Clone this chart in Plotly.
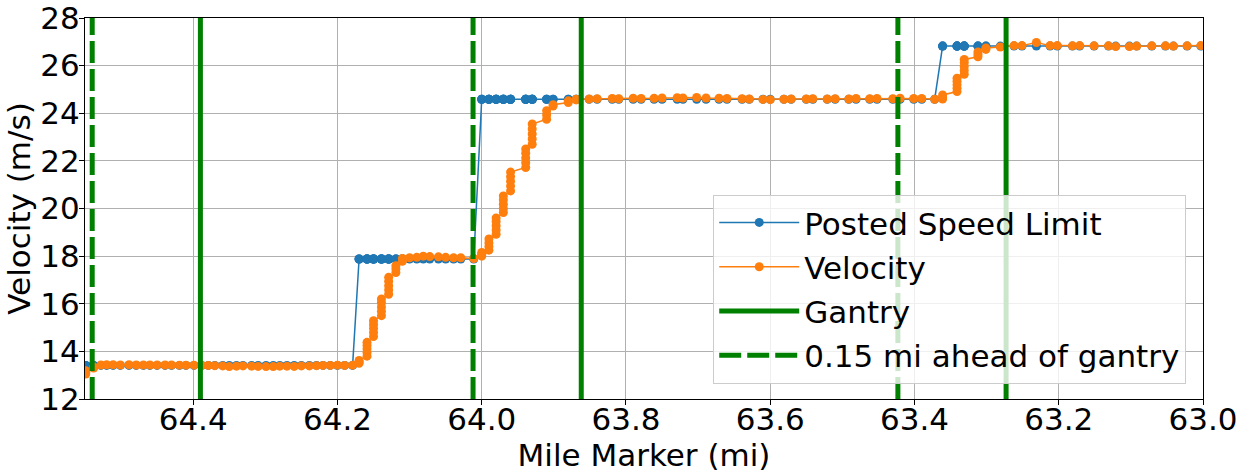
import plotly.graph_objects as go

# ---- data ----
mile_marker = [
    64.549, 64.538, 64.528, 64.520, 64.511, 64.501, 64.489, 64.479, 64.469, 64.460,
    64.450, 64.439, 64.430, 64.419, 64.410, 64.399, 64.388, 64.379, 64.370, 64.359,
    64.350, 64.340, 64.331, 64.319, 64.310, 64.299, 64.289, 64.280, 64.270, 64.260,
    64.250, 64.239, 64.229, 64.220, 64.210, 64.200, 64.190, 64.179,
    64.170, 64.159, 64.150, 64.139, 64.129, 64.119, 64.110, 64.100, 64.090, 64.081,
    64.072, 64.060, 64.050, 64.039, 64.029, 64.011,
    64.000, 63.990, 63.980, 63.970, 63.960, 63.939, 63.930, 63.910, 63.901, 63.880,
    63.869, 63.851, 63.840, 63.819, 63.810, 63.790, 63.779, 63.761, 63.750, 63.729,
    63.721, 63.702, 63.689, 63.671, 63.660, 63.639, 63.629, 63.610, 63.600, 63.581,
    63.571, 63.550, 63.541, 63.521, 63.510, 63.491, 63.481, 63.462, 63.452, 63.430,
    63.420, 63.401, 63.390, 63.372,
    63.361, 63.341, 63.331, 63.312, 63.301, 63.281, 63.262, 63.251, 63.231, 63.212,
    63.202, 63.181, 63.171, 63.151, 63.131, 63.121, 63.102, 63.092, 63.071, 63.052,
    63.041, 63.022, 63.003,
]

posted_speed_limit = [
    13.41, 13.41, 13.41, 13.41, 13.41, 13.41, 13.41, 13.41, 13.41, 13.41,
    13.41, 13.41, 13.41, 13.41, 13.41, 13.41, 13.41, 13.41, 13.41, 13.41,
    13.41, 13.41, 13.41, 13.41, 13.41, 13.41, 13.41, 13.41, 13.41, 13.41,
    13.41, 13.41, 13.41, 13.41, 13.41, 13.41, 13.41, 13.41,
    17.88, 17.88, 17.88, 17.88, 17.88, 17.88, 17.88, 17.88, 17.88, 17.88,
    17.88, 17.88, 17.88, 17.88, 17.88, 17.88,
    24.59, 24.59, 24.59, 24.59, 24.59, 24.59, 24.59, 24.59, 24.59, 24.59,
    24.59, 24.59, 24.59, 24.59, 24.59, 24.59, 24.59, 24.59, 24.59, 24.59,
    24.59, 24.59, 24.59, 24.59, 24.59, 24.59, 24.59, 24.59, 24.59, 24.59,
    24.59, 24.59, 24.59, 24.59, 24.59, 24.59, 24.59, 24.59, 24.59, 24.59,
    24.59, 24.59, 24.59, 24.59,
    26.82, 26.82, 26.82, 26.82, 26.82, 26.82, 26.82, 26.82, 26.82, 26.82,
    26.82, 26.82, 26.82, 26.82, 26.82, 26.82, 26.82, 26.82, 26.82, 26.82,
    26.82, 26.82, 26.82,
]

# velocity readings logged at each mile marker (several readings share a marker)
velocity_readings = [
    [13.05, 13.12, 13.19], [13.30, 13.34], [13.43], [13.44], [13.44], [13.43], [13.44], [13.43], [13.43], [13.43],
    [13.43], [13.43], [13.43], [13.42], [13.42], [13.42], [13.41], [13.41], [13.40], [13.39],
    [13.36], [13.38], [13.39], [13.38], [13.37], [13.36], [13.36], [13.38], [13.38], [13.37],
    [13.39], [13.39], [13.40], [13.41], [13.41], [13.42], [13.41], [13.42],
    [13.50, 13.56, 13.62], [13.80, 13.95, 14.10, 14.25, 14.38], [14.62, 14.79, 14.96, 15.13, 15.29],
    [15.50, 15.68, 15.86, 16.04, 16.20], [16.40, 16.58, 16.76, 16.94, 17.11], [17.31, 17.46, 17.60],
    [17.78, 17.90], [17.93], [17.95], [18.00],
    [17.98], [17.97], [17.95], [17.93], [17.93], [17.90],
    [18.00, 18.08, 18.15], [18.25, 18.40, 18.55, 18.72], [18.92, 19.10, 19.28, 19.45, 19.60],
    [19.83, 20.00, 20.18, 20.36, 20.53], [20.74, 20.94, 21.14, 21.34, 21.53],
    [21.72, 21.92, 22.12, 22.32, 22.50], [22.70, 22.92, 23.13, 23.34, 23.55],
    [23.75, 23.93, 24.11], [24.30, 24.36], [24.45, 24.52],
    [24.56, 24.59], [24.60], [24.61], [24.62], [24.61], [24.63], [24.62], [24.63], [24.64], [24.65],
    [24.64], [24.66], [24.64], [24.63], [24.62], [24.61], [24.60], [24.58], [24.57], [24.59],
    [24.60], [24.60], [24.61], [24.60], [24.61], [24.60], [24.62], [24.61], [24.62], [24.61],
    [24.63], [24.62], [24.62], [24.59],
    [24.60, 24.68, 24.77], [24.91, 25.05, 25.20, 25.34, 25.47], [25.64, 25.80, 25.96, 26.12, 26.26],
    [26.37, 26.47, 26.57], [26.68, 26.74], [26.78], [26.84], [26.84], [26.97], [26.84],
    [26.84], [26.83], [26.84], [26.83], [26.83], [26.80], [26.80], [26.82], [26.83], [26.83],
    [26.82], [26.83], [26.84],
]

gantry_mile = [64.390, 63.862, 63.273]
ahead_mile = [64.540, 64.012, 63.423]   # 0.15 mi ahead of each gantry

assert len(mile_marker) == len(posted_speed_limit) == len(velocity_readings)

# ---- build plotting table ----
vel_x, vel_y, lim_x, lim_y = [], [], [], []
for m, lim, reads in zip(mile_marker, posted_speed_limit, velocity_readings):
    for v in reads:
        vel_x.append(m)
        vel_y.append(v)
        lim_x.append(m)
        lim_y.append(lim)

Y_MIN, Y_MAX = 12, 28


def vlines(xs):
    X, Y = [], []
    for x in xs:
        X += [x, x, None]
        Y += [Y_MIN, Y_MAX, None]
    return X, Y


FONT = "DejaVu Sans"
FS = 31
fig = go.Figure()
fig.add_trace(go.Scatter(
    x=lim_x, y=lim_y, mode="lines+markers", name="Posted Speed Limit",
    line=dict(color="#1f77b4", width=1.5), marker=dict(color="#1f77b4", size=9),
    legendgroup="a"))
fig.add_trace(go.Scatter(
    x=vel_x, y=vel_y, mode="lines+markers", name="Velocity",
    line=dict(color="#ff7f0e", width=1.5), marker=dict(color="#ff7f0e", size=9),
    legendgroup="b"))
gx, gy = vlines(gantry_mile)
fig.add_trace(go.Scatter(
    x=gx, y=gy, mode="lines", name="Gantry",
    line=dict(color="green", width=5), legendgroup="c"))
ax, ay = vlines(ahead_mile)
fig.add_trace(go.Scatter(
    x=ax, y=ay, mode="lines", name="0.15 mi ahead of gantry",
    line=dict(color="green", width=5, dash="22px,6px"), legendgroup="d"))

axis_common = dict(
    showgrid=True, gridcolor="#b0b0b0", gridwidth=1,
    showline=True, linecolor="black", linewidth=1, mirror=True,
    ticks="outside", ticklen=5, tickcolor="black",
    tickfont=dict(family=FONT, size=FS, color="black"),
    zeroline=False, automargin=False, ticklabeloverflow="allow",
)

fig.update_layout(
    width=1242, height=475,
    margin=dict(l=85, r=39, t=18, b=76),
    paper_bgcolor="white", plot_bgcolor="white",
    font=dict(family=FONT, size=FS, color="black"),
    showlegend=True,
    legend=dict(
        x=0.985, y=0.04, xanchor="right", yanchor="bottom",
        bgcolor="rgba(255,255,255,0.8)", bordercolor="#cccccc", borderwidth=1,
        font=dict(family=FONT, size=31, color="black"),
        tracegroupgap=1, traceorder="grouped", itemwidth=80,
    ),
    xaxis=dict(
        range=[64.55, 63.0], tick0=63.0, dtick=0.2, tickformat=".1f",
        ticklabelstandoff=-12,
        title=dict(text="Mile Marker (mi)", font=dict(family=FONT, size=FS), standoff=0),
        **axis_common,
    ),
    yaxis=dict(
        range=[Y_MIN, Y_MAX], tick0=12, dtick=2,
        ticklabelstandoff=-7,
        title=dict(text="Velocity (m/s)", font=dict(family=FONT, size=FS), standoff=0),
        **axis_common,
    ),
)

fig.write_html("out.html", config={"displayModeBar": False},
               post_script="document.body.style.margin='0';")
